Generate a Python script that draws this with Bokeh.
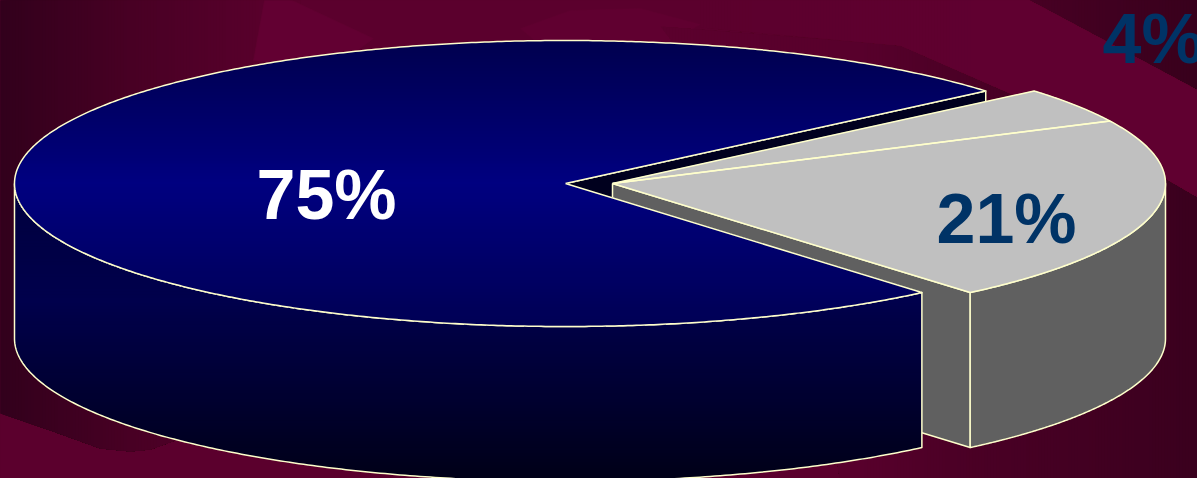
import numpy as np
from bokeh.core.properties import value
from bokeh.embed import file_html
from bokeh.plotting import figure
from bokeh.resources import INLINE

# Pie data
labels = ["75%", "21%", "4%"]
shares = [75, 21, 4]
label_colors = ["#FFFFFF", "#003366", "#003366"]
label_x = [256, 936, 1102]
label_y = [194, 218, 38]

W, H = 1197, 478
MAIN_C = (565.0, 183.0)
PULLED_C = (612.0, 183.0)
RX_MAIN, RX_PULLED, RY = 551.0, 553.0, 143.0
DEPTH = 155.0
START_DEG = -49.7
EDGE = "#FFFFCC"
EDGE_W = 1.5
BASE = "#5b002d"


def arc(c, rx, a0, a1, drop=0.0, n=240):
    t = np.radians(np.linspace(a0, a1, n))
    return list(zip(c[0] + rx * np.cos(t), c[1] + drop - RY * np.sin(t)))


def clip(poly, axis, edge):
    """Keep the part of a polygon whose coordinate on axis is >= edge."""
    out = []
    for i, cur in enumerate(poly):
        prev = poly[i - 1]
        a, b = prev[axis] >= edge, cur[axis] >= edge
        if a != b:
            k = (edge - prev[axis]) / (cur[axis] - prev[axis])
            out.append((prev[0] + k * (cur[0] - prev[0]), prev[1] + k * (cur[1] - prev[1])))
        if b:
            out.append(cur)
    return out


def hexcol(rgb):
    return "#%02x%02x%02x" % tuple(int(round(v)) for v in rgb)


p = figure(width=W, height=H, x_range=(0, W), y_range=(H, 0), output_backend="svg",
           toolbar_location=None, min_border=0, outline_line_color=None,
           styles={"background-color": BASE})
p.axis.visible = False
p.grid.visible = False
p.background_fill_color = BASE
p.border_fill_color = BASE


def flat(poly, color):
    p.patch([q[0] for q in poly], [q[1] for q in poly], fill_color=color, line_color=color, line_width=0.5)


def graded(poly, axis, stops, step=3.0):
    """Fill a polygon with a linear gradient, painting each band over the previous one."""
    pos = [s[0] for s in stops]
    cols = np.array([s[1] for s in stops], dtype=float)
    lo = min(q[axis] for q in poly)
    hi = max(q[axis] for q in poly)
    xs, ys, fills = [], [], []
    for e in np.arange(lo, hi, step):
        part = clip(poly, axis, e) if e > lo else poly
        if len(part) < 3:
            continue
        c = [np.interp(e + step / 2, pos, cols[:, k]) for k in range(3)]
        xs.append([q[0] for q in part])
        ys.append([q[1] for q in part])
        fills.append(hexcol(c))
    p.patches(xs, ys, fill_color=fills, line_color=None)


def outline(points, closed=False):
    pts = list(points) + ([points[0]] if closed else [])
    p.line([q[0] for q in pts], [q[1] for q in pts], line_color=EDGE, line_width=EDGE_W, line_join="round")


# Backdrop swirls
flat([(-6, -6), (W + 6, -6), (W + 6, H + 6), (-6, H + 6)], BASE)
swirl_edge = [(300, 400), (215, 425), (180, 438), (150, 449), (130, 451), (100, 448),
              (50, 430), (0, 413), (-6, 411)]
left_dark = [(-6, -6), (300, -6)] + swirl_edge
graded(left_dark, 0, [(0, (50, 0, 28)), (130, (72, 0, 36)), (285, (91, 0, 45))])
flat([(265, -6), (279, -6), (373, 38), (330, 70), (253, 60)], "#620032")
flat([(520, 28), (570, 10), (640, 8), (700, 24), (660, 45), (540, 45)], "#600030")
right_dark = [(660, 26), (900, 45), (1010, 93), (1165, 178), (W + 6, 200), (W + 6, H + 6), (840, H + 6), (800, 200)]
graded(right_dark, 0, [(660, (91, 0, 45)), (860, (88, 0, 44)), (950, (76, 0, 38)), (1197, (58, 0, 30))])
graded([(1018, -6), (W + 6, -6), (W + 6, 93)], 0, [(1025, (72, 0, 36)), (1197, (56, 0, 28))])
upper_band = [(700, -6), (1018, -6), (W + 6, 93), (W + 6, 200), (1165, 178), (1010, 93), (900, 45), (700, 27)]
graded(upper_band, 0, [(700, (91, 0, 45)), (1000, (96, 0, 48))])

# Slice angles follow the shares, counter-clockwise from the front edge
sweeps = [s / sum(shares) * 360.0 for s in shares]
a_big_end = START_DEG + sweeps[1]
a_small_end = a_big_end + sweeps[2]
a_main_end = a_small_end + sweeps[0]

# Cut face of the large slice seen through the gap
notch_tip = arc(MAIN_C, RX_MAIN, a_small_end, a_small_end, n=1)[0]
notch_face = [MAIN_C, notch_tip, (notch_tip[0], notch_tip[1] + DEPTH), (MAIN_C[0], MAIN_C[1] + DEPTH)]
flat(notch_face, "#00001e")
outline([MAIN_C, notch_tip, (notch_tip[0], notch_tip[1] + DEPTH)])

# Pulled-out slices: cut face, outer wall, then the two top faces
front = arc(PULLED_C, RX_PULLED, START_DEG, START_DEG, n=1)[0]
cut_face = [PULLED_C, front, (front[0], front[1] + DEPTH), (PULLED_C[0], PULLED_C[1] + DEPTH)]
flat(cut_face, "#606060")
outline(cut_face, closed=True)
wall = arc(PULLED_C, RX_PULLED, START_DEG, 0) + arc(PULLED_C, RX_PULLED, 0, START_DEG, drop=DEPTH)
flat(wall, "#606060")
outline(wall, closed=True)
big_top = [PULLED_C] + arc(PULLED_C, RX_PULLED, START_DEG, a_big_end)
small_top = [PULLED_C] + arc(PULLED_C, RX_PULLED, a_big_end, a_small_end)
flat(big_top, "#C0C0C0")
flat(small_top, "#C0C0C0")
outline(big_top, closed=True)
outline(small_top, closed=True)

# Large slice: outer wall and top face with their shading
main_wall = arc(MAIN_C, RX_MAIN, 180, a_main_end) + arc(MAIN_C, RX_MAIN, a_main_end, 180, drop=DEPTH)
graded(main_wall, 1, [(190, (0, 0, 62)), (300, (0, 0, 76)), (478, (0, 0, 24))])
outline(main_wall, closed=True)
main_top = [MAIN_C] + arc(MAIN_C, RX_MAIN, a_small_end, a_main_end, n=600)
graded(main_top, 1, [(40, (0, 0, 78)), (183, (0, 0, 128)), (326, (0, 0, 84))])
outline(main_top, closed=True)

# Percentage labels
for text, color, x, y in zip(labels, label_colors, label_x, label_y):
    p.text([x], [y], text=[text], text_color=color, text_font=value("Liberation Sans"),
           text_font_style="bold", text_font_size="70px", text_align="left", text_baseline="middle")

open("out.html", "w").write(file_html(p, INLINE))
